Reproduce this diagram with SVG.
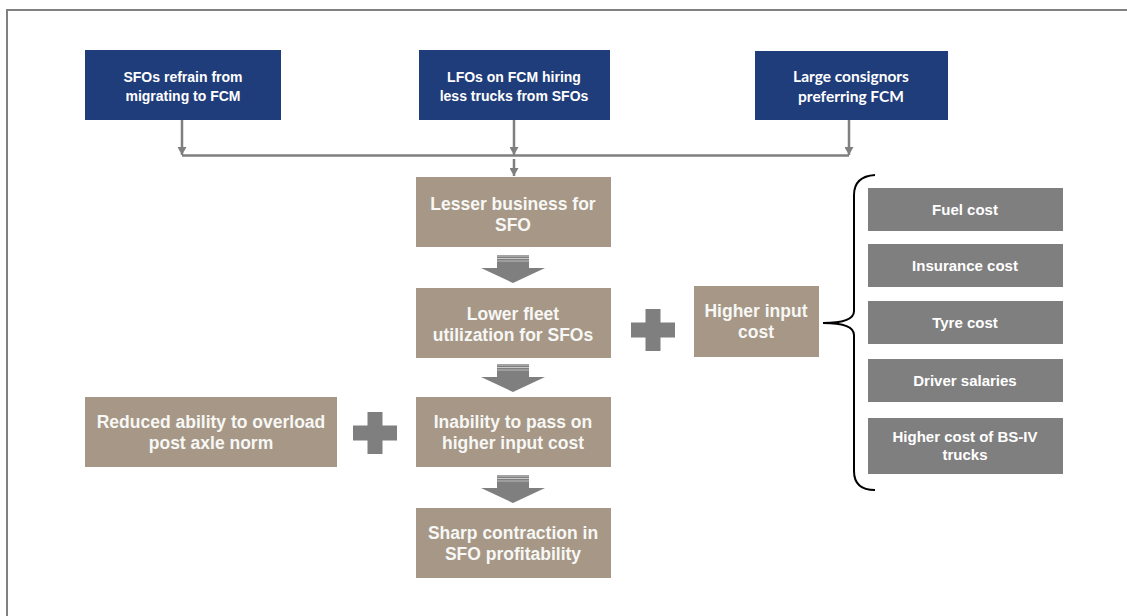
<svg xmlns="http://www.w3.org/2000/svg" width="1127" height="616" viewBox="0 0 1127 616">
<defs>
<marker id="ah" markerUnits="userSpaceOnUse" markerWidth="9" markerHeight="9" refX="8" refY="4.5" orient="auto">
<path d="M0,0 L8,4.5 L0,9 z" fill="#7f7f7f"/>
</marker>
<g id="blockArrow">
<rect x="-16" y="0" width="32" height="13" fill="#7f7f7f"/>
<line x1="-16" y1="1" x2="16" y2="1" stroke="#c9c9c9" stroke-width="1"/>
<line x1="-16" y1="3.5" x2="16" y2="3.5" stroke="#c9c9c9" stroke-width="1"/>
<line x1="-16" y1="6" x2="16" y2="6" stroke="#bdbdbd" stroke-width="1"/>
<polygon points="-32,13 32,13 0,28" fill="#7f7f7f"/>
</g>
<g id="plus">
<rect x="-22" y="-7.5" width="44" height="15" fill="#7f7f7f"/>
<rect x="-7.5" y="-21" width="15" height="42" fill="#7f7f7f"/>
</g>
</defs>
<style>
.blue{fill:#1f3d7a}
.tan{fill:#a69786}
.gray{fill:#7f7f7f}
.tb{font-family:"Liberation Sans",Arial,sans-serif;font-weight:bold;font-size:14px;fill:#ffffff;text-anchor:middle}
.tc{font-family:Lato,"Open Sans",sans-serif;font-weight:bold;font-size:15.5px;fill:#ffffff;text-anchor:middle}
.tt{font-family:"Liberation Sans",Arial,sans-serif;font-weight:bold;font-size:17.5px;fill:#f7f7f5;text-anchor:middle}
.tg{font-family:"Liberation Sans",Arial,sans-serif;font-weight:bold;font-size:15px;fill:#ffffff;text-anchor:middle}
.conn{stroke:#7f7f7f;stroke-width:2.5;fill:none}
</style>
<rect x="0" y="0" width="1127" height="616" fill="#ffffff"/>
<path d="M7,616 V10 H1127" fill="none" stroke="#808080" stroke-width="2"/>

<g id="connectors">
<path class="conn" d="M182,120 V155" marker-end="url(#ah)"/>
<path class="conn" d="M514,120 V155" marker-end="url(#ah)"/>
<path class="conn" d="M849,120 V155" marker-end="url(#ah)"/>
<path class="conn" d="M182,155.5 H849"/>
<path class="conn" d="M514,159 V176" marker-end="url(#ah)"/>
<use href="#blockArrow" x="513" y="255"/>
<use href="#blockArrow" x="513" y="364"/>
<use href="#blockArrow" x="513" y="475"/>
<use href="#plus" x="653" y="330"/>
<use href="#plus" x="375" y="433"/>
<path d="M875,175 C860,176 854,183 854,195 V311 C854,319 843,323 823,323 C843,323 854,327 854,335 V471 C854,483 860,490 875,490" fill="none" stroke="#000000" stroke-width="2"/>
</g>

<g id="n-sfo-refrain">
<rect class="blue" x="85" y="50" width="196" height="70"/>
<text class="tb" x="183" y="82">SFOs refrain from</text>
<text class="tb" x="183" y="101">migrating  to FCM</text>
</g>
<g id="n-lfo-hiring">
<rect class="blue" x="419" y="50" width="191" height="70"/>
<text class="tb" x="514" y="82">LFOs on FCM hiring</text>
<text class="tb" x="514" y="101">less trucks from SFOs</text>
</g>
<g id="n-large-consignors">
<rect class="blue" x="755" y="51" width="193" height="69"/>
<text class="tc" x="851" y="82">Large consignors</text>
<text class="tc" x="851" y="102">preferring FCM</text>
</g>

<g id="n-lesser">
<rect class="tan" x="416" y="177" width="195" height="70"/>
<text class="tt" x="513" y="210">Lesser business for</text>
<text class="tt" x="513" y="231">SFO</text>
</g>
<g id="n-lower">
<rect class="tan" x="416" y="288" width="195" height="70"/>
<text class="tt" x="513" y="320">Lower fleet</text>
<text class="tt" x="513" y="341">utilization for SFOs</text>
</g>
<g id="n-higher-input">
<rect class="tan" x="694" y="286" width="125" height="71"/>
<text class="tt" x="756" y="317">Higher input</text>
<text class="tt" x="756" y="338">cost</text>
</g>
<g id="n-inability">
<rect class="tan" x="416" y="397" width="195" height="70"/>
<text class="tt" x="513" y="428">Inability to pass on</text>
<text class="tt" x="513" y="449">higher input cost</text>
</g>
<g id="n-reduced">
<rect class="tan" x="85" y="397" width="252" height="70"/>
<text class="tt" x="211" y="428">Reduced ability to overload</text>
<text class="tt" x="211" y="449">post axle norm</text>
</g>
<g id="n-sharp">
<rect class="tan" x="416" y="508" width="195" height="70"/>
<text class="tt" x="513" y="539">Sharp contraction in</text>
<text class="tt" x="513" y="560">SFO profitability</text>
</g>

<g id="n-fuel">
<rect class="gray" x="868" y="188" width="195" height="43"/>
<text class="tg" x="965" y="215">Fuel cost</text>
</g>
<g id="n-insurance">
<rect class="gray" x="868" y="244" width="195" height="43"/>
<text class="tg" x="965" y="271">Insurance cost</text>
</g>
<g id="n-tyre">
<rect class="gray" x="868" y="301" width="195" height="43"/>
<text class="tg" x="965" y="328">Tyre cost</text>
</g>
<g id="n-driver">
<rect class="gray" x="868" y="359" width="195" height="43"/>
<text class="tg" x="965" y="386">Driver salaries</text>
</g>
<g id="n-bsiv">
<rect class="gray" x="868" y="418" width="195" height="56"/>
<text class="tg" x="965" y="442">Higher cost of BS-IV</text>
<text class="tg" x="965" y="460">trucks</text>
</g>
</svg>
